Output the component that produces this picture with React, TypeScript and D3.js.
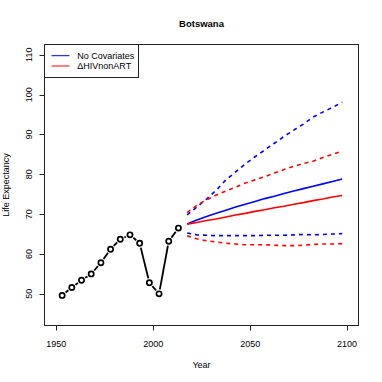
import { useMemo } from 'react';
import * as d3 from 'd3';

// observed life expectancy (period midpoints)
const obsYears = [1953, 1958, 1963, 1968, 1973, 1978, 1983, 1988, 1993, 1998, 2003, 2008, 2013];
const obsValues = [49.6, 51.6, 53.4, 55.0, 57.8, 61.2, 63.7, 64.8, 62.7, 52.8, 50.0, 63.2, 66.5];

// projections
const projYears = [2017.5, 2022.5, 2027.5, 2032.5, 2037.5, 2042.5, 2047.5, 2052.5, 2057.5,
  2062.5, 2067.5, 2072.5, 2077.5, 2082.5, 2087.5, 2092.5, 2097.5];
const noCovMedian = [67.5, 68.5, 69.4, 70.2, 71.0, 71.8, 72.5, 73.2, 73.9, 74.5, 75.2, 75.8, 76.4, 77.0, 77.6, 78.2, 78.8];
const noCovUpper = [69.8, 71.8, 73.8, 76.0, 78.6, 80.6, 82.6, 84.4, 86.1, 87.8, 89.5, 91.1, 92.6, 94.4, 95.6, 96.8, 98.1];
const noCovLower = [65.25, 64.8, 64.7, 64.6, 64.6, 64.6, 64.6, 64.6, 64.7, 64.7, 64.7, 64.8, 64.9, 64.8, 64.9, 65.0, 65.1];
const hivMedian = [67.5, 67.9, 68.4, 68.8, 69.3, 69.8, 70.2, 70.7, 71.1, 71.6, 72.0, 72.5, 72.9, 73.4, 73.8, 74.3, 74.7];
const hivUpper = [70.4, 72.2, 73.6, 74.8, 75.8, 76.8, 77.8, 78.6, 79.4, 80.3, 81.2, 82.0, 82.7, 83.3, 84.2, 85.0, 85.8];
const hivLower = [64.6, 63.8, 63.3, 63.0, 62.7, 62.5, 62.3, 62.3, 62.3, 62.2, 62.1, 62.1, 62.2, 62.4, 62.5, 62.5, 62.6];

const xTicks = [1950, 2000, 2050, 2100];
const yTicks = [50, 60, 70, 80, 90, 100, 110];
const legendLabels = ['No Covariates', '\u0394HIVnonART'];
const legendColors = ['#0000ff', '#ff0000'];

const W = 382, H = 382;
const left = 44.5, right = 358.5, top = 44.5, bottom = 325.5;
const font = '"Liberation Sans", Arial, sans-serif';

export default function App() {
  const x = d3.scaleLinear().domain([1943.9, 2105.9]).range([left, right]);
  const y = d3.scaleLinear().domain([42.05, 112.58]).range([bottom, top]);

  const line = d3.line<number>()
    .x((_, i) => x(projYears[i]))
    .y(d => y(d));

  // type="b" style: segments with gaps around the points
  const segs = useMemo(() => {
    const out: [number, number, number, number][] = [];
    const gap = 4.5;
    for (let i = 0; i < obsYears.length - 1; i++) {
      const x1 = x(obsYears[i]), y1 = y(obsValues[i]);
      const x2 = x(obsYears[i + 1]), y2 = y(obsValues[i + 1]);
      const len = Math.hypot(x2 - x1, y2 - y1);
      if (len <= gap * 2) continue;
      const ux = (x2 - x1) / len, uy = (y2 - y1) / len;
      out.push([x1 + ux * gap, y1 + uy * gap, x2 - ux * gap, y2 - uy * gap]);
    }
    return out;
  }, []);

  const series = [
    { v: noCovUpper, c: legendColors[0], dash: '4,4' },
    { v: noCovLower, c: legendColors[0], dash: '4,4' },
    { v: hivUpper, c: legendColors[1], dash: '4,4' },
    { v: hivLower, c: legendColors[1], dash: '4,4' },
    { v: noCovMedian, c: legendColors[0], dash: null },
    { v: hivMedian, c: legendColors[1], dash: null },
  ];

  return (
    <svg width={W} height={H} style={{ position: 'absolute', left: 0, top: 0, background: '#fff' }}
      fontFamily={font}>
      <rect x={0} y={0} width={W} height={H} fill="#fff" />

      {/* title */}
      <text x={(left + right) / 2} y={27} textAnchor="middle" fontSize={9.5} fontWeight="bold">Botswana</text>

      {/* observed */}
      {segs.map((s, i) => (
        <line key={i} x1={s[0]} y1={s[1]} x2={s[2]} y2={s[3]} stroke="#000" strokeWidth={1.8} />
      ))}
      {obsYears.map((yr, i) => (
        <circle key={yr} cx={x(yr)} cy={y(obsValues[i])} r={2.6} fill="none" stroke="#000" strokeWidth={1.7} />
      ))}

      {/* projections */}
      {series.map((s, i) => (
        <path key={i} d={line(s.v) || ''} fill="none" stroke={s.c} strokeWidth={1.6}
          strokeDasharray={s.dash || undefined} />
      ))}

      {/* frame */}
      <rect x={left} y={top} width={right - left} height={bottom - top} fill="none" stroke="#222" strokeWidth={1} />

      {/* x axis */}
      {xTicks.map(t => (
        <g key={t}>
          <line x1={Math.round(x(t)) + 0.5} x2={Math.round(x(t)) + 0.5} y1={bottom} y2={bottom + 5} stroke="#222" />
          <text x={x(t)} y={346.5} textAnchor="middle" fontSize={9}>{t}</text>
        </g>
      ))}
      <text x={(left + right) / 2} y={368} textAnchor="middle" fontSize={9}>Year</text>

      {/* y axis */}
      {yTicks.map(t => (
        <g key={t}>
          <line x1={left - 5} x2={left} y1={Math.round(y(t)) + 0.5} y2={Math.round(y(t)) + 0.5} stroke="#222" />
          <text transform={`translate(31.5,${y(t)}) rotate(-90)`} textAnchor="middle" fontSize={9}>{t}</text>
        </g>
      ))}
      <text transform={`translate(8.5,${(top + bottom) / 2}) rotate(-90)`} textAnchor="middle" fontSize={9}>Life Expectancy</text>

      {/* legend */}
      <rect x={left} y={top} width={94} height={33} fill="#fff" stroke="#222" strokeWidth={1} />
      {legendLabels.map((lab, i) => (
        <g key={lab}>
          <line x1={51.5} x2={69.5} y1={55.7 + i * 10.3} y2={55.7 + i * 10.3} stroke={legendColors[i]} strokeWidth={1} />
          <text x={77.3} y={55.7 + i * 10.3} dy="0.35em" fontSize={9}>{lab}</text>
        </g>
      ))}
    </svg>
  );
}
